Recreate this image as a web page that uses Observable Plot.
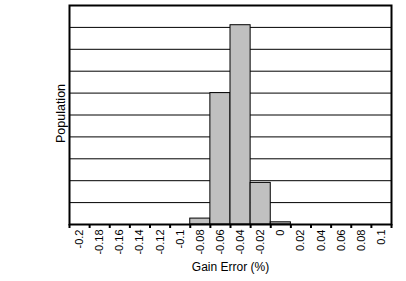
<!DOCTYPE html>
<html>
<head>
<meta charset="utf-8">
<script src="https://cdn.jsdelivr.net/npm/d3@7"></script>
<script src="https://cdn.jsdelivr.net/npm/@observablehq/plot@0.6"></script>
<style>
  html, body { margin: 0; padding: 0; background: #fff; }
  #chart svg { display: block; }
</style>
</head>
<body>
<div id="chart"></div>
<script>
// Bin centers of gain error (%)
const categories = [-0.2, -0.18, -0.16, -0.14, -0.12, -0.1, -0.08, -0.06, -0.04, -0.02, 0, 0.02, 0.04, 0.06, 0.08, 0.1];
const tickLabels = ["-0.2", "-0.18", "-0.16", "-0.14", "-0.12", "-0.1", "-0.08", "-0.06", "-0.04", "-0.02", "0", "0.02", "0.04", "0.06", "0.08", "0.1"];
// Relative population per bin (grid units, 0..10)
const population = [0, 0, 0, 0, 0, 0, 0.27, 6.0, 9.1, 1.9, 0.1, 0, 0, 0, 0, 0];
const binWidth = 0.02;

const bars = categories.map((c, i) => ({c, v: population[i], label: tickLabels[i]})).filter(d => d.v > 0);
const labelData = categories.map((c, i) => ({c, label: tickLabels[i]}));
const boundaries = categories.map(c => c - binWidth / 2).concat([categories[categories.length - 1] + binWidth / 2]);

const font = "'Liberation Sans', Arial, sans-serif";

const chart = Plot.plot({
  width: 406,
  height: 281,
  marginLeft: 69,
  marginRight: 15,
  marginTop: 5,
  marginBottom: 57,
  style: {fontFamily: font, fontSize: "11px", background: "#fff", color: "#000"},
  x: {type: "linear", domain: [boundaries[0], boundaries[boundaries.length - 1]], axis: null},
  y: {domain: [0, 10], axis: null},
  marks: [
    Plot.gridY({ticks: d3.range(0, 11), stroke: "#000", strokeOpacity: 1, strokeWidth: 1}),
    Plot.rectY(bars, {x1: d => d.c - binWidth / 2, x2: d => d.c + binWidth / 2, y1: 0, y2: "v", fill: "#c0c0c0", stroke: "#000", strokeWidth: 1}),
    Plot.frame({stroke: "#000", strokeWidth: 2}),
    Plot.axisX({ticks: boundaries, tickSize: 4, tickFormat: () => "", strokeWidth: 2, stroke: "#000", label: null}),
    Plot.text(labelData, {x: "c", text: "label", frameAnchor: "bottom", rotate: -90, textAnchor: "end", lineAnchor: "middle", dy: 5, fontSize: 11, fill: "#000"}),
    Plot.text(["Gain Error (%)"], {frameAnchor: "bottom", dy: 43, lineAnchor: "middle", textAnchor: "middle", fontSize: 12, fill: "#000"}),
    Plot.text(["Population"], {frameAnchor: "left", dx: -8.5, dy: -1.5, rotate: -90, lineAnchor: "middle", textAnchor: "middle", fontSize: 12.5, fill: "#000"})
  ]
});
document.getElementById("chart").appendChild(chart);
</script>
</body>
</html>
